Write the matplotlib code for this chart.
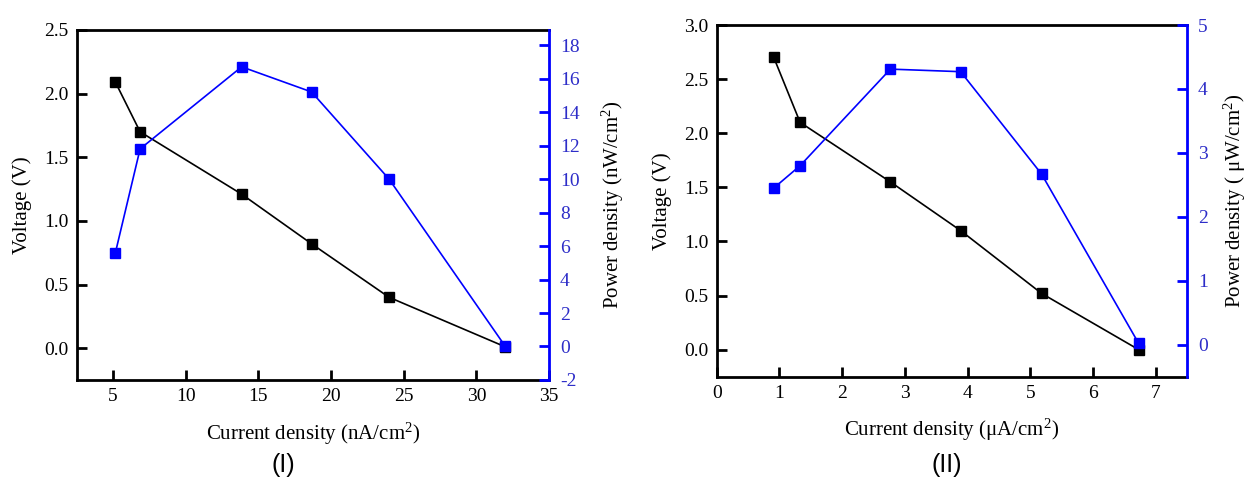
import matplotlib.pyplot as plt

plt.rcParams['axes.unicode_minus'] = False
plt.rcParams['mathtext.fontset'] = 'custom'
plt.rcParams['mathtext.rm'] = 'Liberation Serif'
plt.rcParams['mathtext.it'] = 'Liberation Serif:italic'

# panel (I): current density in nA/cm2
j1 = [5.16, 6.86, 13.85, 18.66, 23.99, 32.0]
v1 = [2.09, 1.70, 1.21, 0.82, 0.40, 0.01]
p1 = [5.6, 11.8, 16.7, 15.2, 10.0, 0.0]

# panel (II): current density in uA/cm2
j2 = [0.91, 1.33, 2.77, 3.89, 5.18, 6.73]
v2 = [2.70, 2.10, 1.55, 1.10, 0.52, 0.0]
p2 = [2.45, 2.80, 4.31, 4.27, 2.67, 0.02]

serif = 'Liberation Serif'
blue = '#0000ff'
tick_blue = '#2d2dc8'
fs_tick = 14
fs_lab = 15

fig = plt.figure(figsize=(12.48, 4.79), dpi=100)


def make_panel(rect, x, v, p, xlim, xticks, vlim, vticks, plim, pticks,
               xlabel, plabel, tag, tag_x, ppad):
    ax = fig.add_axes(rect)
    ax.plot(x, v, color='black', lw=1.2, marker='s', ms=7.5)
    ax.set_xlim(*xlim)
    ax.set_ylim(*vlim)
    ax.set_xticks(xticks)
    ax.set_yticks(vticks)
    ax.set_yticklabels([f'{t:.1f}' for t in vticks])
    ax.set_xlabel(xlabel, fontsize=fs_lab, family=serif, labelpad=11)
    ax.set_ylabel('Voltage (V)', fontsize=fs_lab, family=serif, labelpad=9)
    for s in ax.spines.values():
        s.set_linewidth(2)
    ax.spines['right'].set_visible(False)
    ax.tick_params(direction='in', length=7, width=2, labelsize=fs_tick, pad=6)
    for lab in ax.get_xticklabels() + ax.get_yticklabels():
        lab.set_family(serif)

    ax2 = ax.twinx()
    ax2.plot(x, p, color=blue, lw=1.2, marker='s', ms=7.5)
    ax2.set_ylim(*plim)
    ax2.set_yticks(pticks)
    ax2.set_ylabel(plabel, fontsize=fs_lab, family=serif, labelpad=ppad)
    for side in ['left', 'top', 'bottom']:
        ax2.spines[side].set_visible(False)
    ax2.spines['right'].set_color(blue)
    ax2.spines['right'].set_linewidth(2)
    ax2.tick_params(direction='in', length=7, width=2, color=blue,
                    labelcolor=tick_blue, labelsize=fs_tick, pad=8)
    for lab in ax2.get_yticklabels():
        lab.set_family(serif)

    fig.text(tag_x, 0.03, tag, fontsize=18, family='Liberation Sans',
             ha='center', va='center')


make_panel([0.0615, 0.2067, 0.3784, 0.7307], j1, v1, p1,
           (2.5, 35), [5, 10, 15, 20, 25, 30, 35],
           (-0.25, 2.5), [0.0, 0.5, 1.0, 1.5, 2.0, 2.5],
           (-2, 18.9), list(range(-2, 19, 2)),
           r'Current density (nA/cm$^2$)', r'Power density (nW/cm$^2$)',
           '(I)', 283 / 1248, 14)

make_panel([0.5743, 0.2136, 0.3768, 0.7342], j2, v2, p2,
           (0, 7.5), list(range(0, 8)),
           (-0.25, 3.0), [0.0, 0.5, 1.0, 1.5, 2.0, 2.5, 3.0],
           (-0.5, 5), list(range(0, 6)),
           r'Current density (μA/cm$^2$)', r'Power density ( μW/cm$^2$)',
           '(II)', 947 / 1248, 10)

fig.savefig('out.png', dpi=100)
